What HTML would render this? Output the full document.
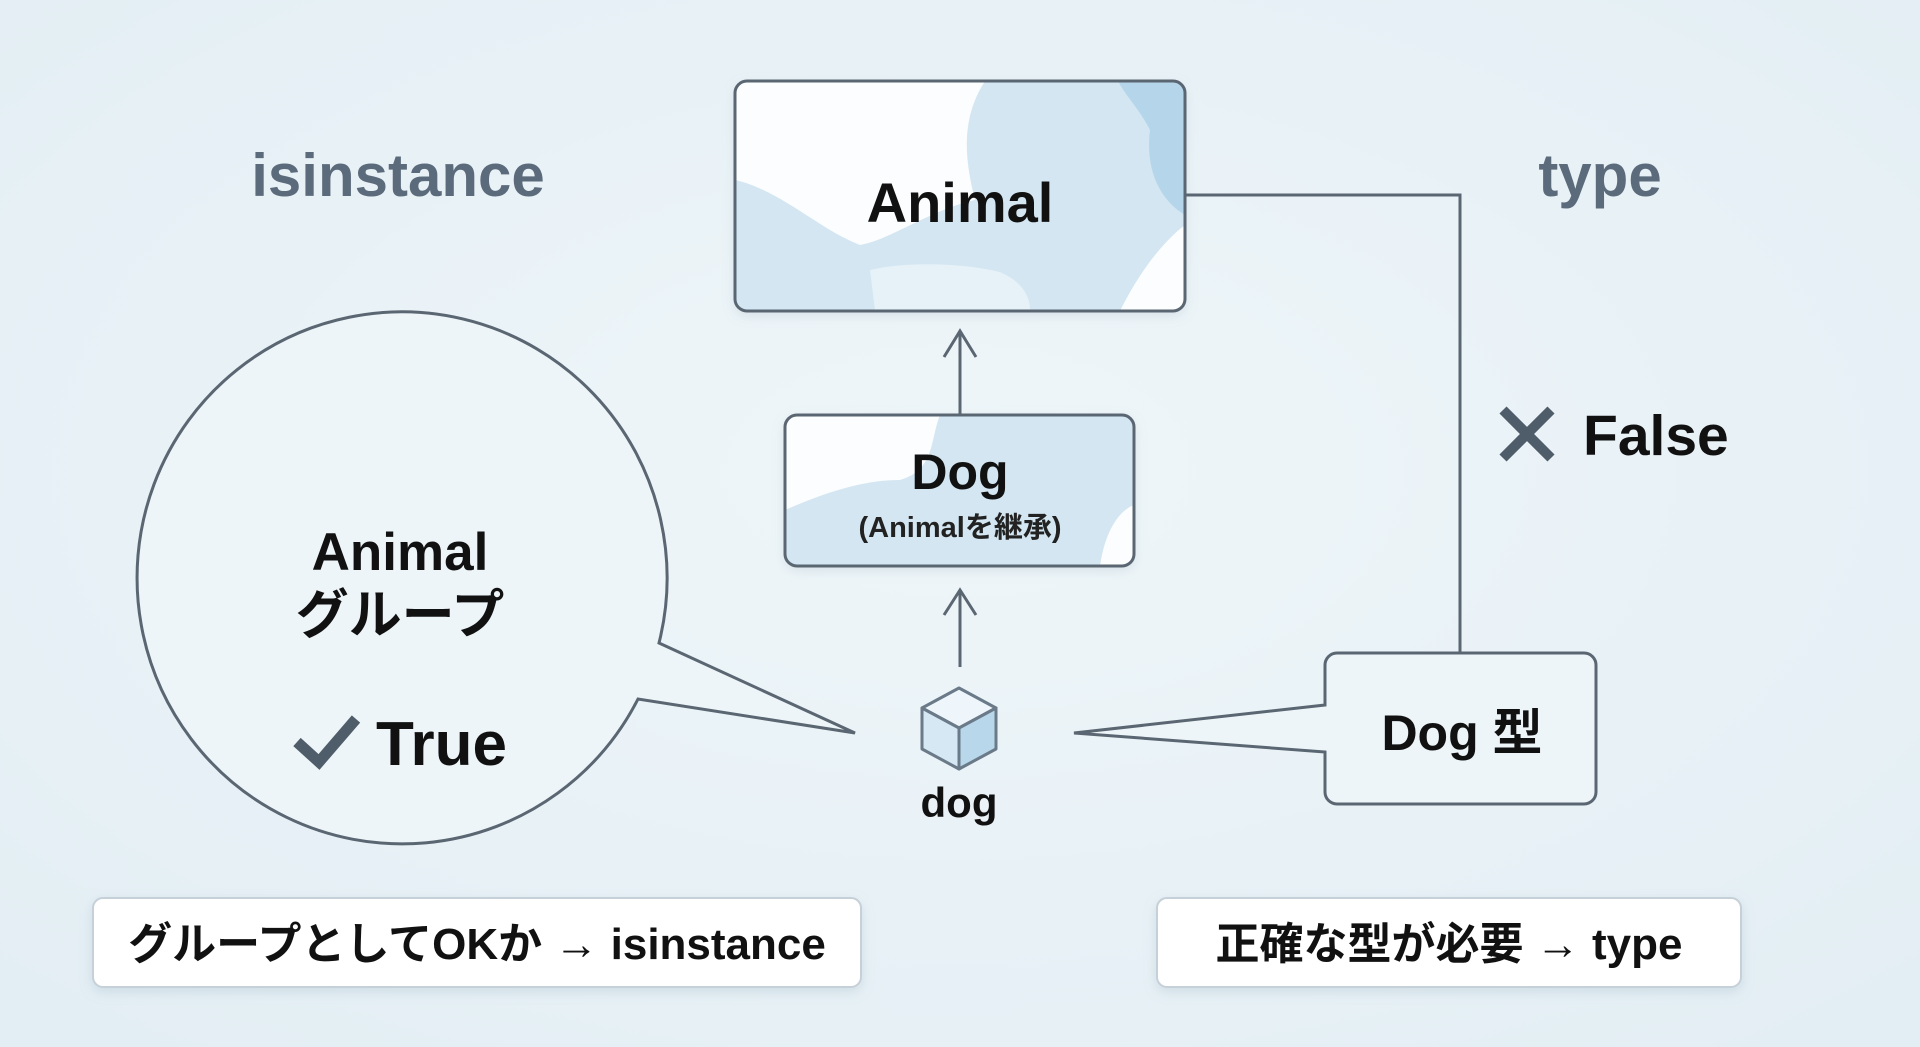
<!DOCTYPE html>
<html><head><meta charset="utf-8"><style>
html,body{margin:0;padding:0;width:1920px;height:1047px;overflow:hidden;background:#eaf3f7}
svg{display:block}
text{font-family:"Liberation Sans","Noto Sans CJK JP",sans-serif;font-weight:bold}
</style></head><body>
<svg width="1920" height="1047" viewBox="0 0 1920 1047" xmlns="http://www.w3.org/2000/svg">
<defs>
<radialGradient id="bg" cx="50%" cy="45%" r="70%"><stop offset="0" stop-color="#eff6f9"/><stop offset="1" stop-color="#e3eef4"/></radialGradient>
<clipPath id="c1"><rect x="735" y="81" width="450" height="230" rx="12"/></clipPath>
<clipPath id="c2"><rect x="785" y="415" width="349" height="151" rx="12"/></clipPath>
<filter id="sh" x="-10%" y="-10%" width="120%" height="130%"><feDropShadow dx="0" dy="4" stdDeviation="6" flood-color="#8aa0b0" flood-opacity="0.25"/></filter>
</defs>
<rect width="1920" height="1047" fill="url(#bg)"/>

<text x="398" y="196" font-size="60" fill="#5b6b7b" text-anchor="middle">isinstance</text>
<text x="1600" y="196" font-size="60" fill="#5b6b7b" text-anchor="middle">type</text>

<!-- Animal box -->
<g filter="url(#sh)"><rect x="735" y="81" width="450" height="230" rx="12" fill="#d3e6f2"/></g>
<g clip-path="url(#c1)">
<path d="M735 81 H985 C960 120 965 160 975 200 C930 210 890 240 860 245 C820 230 780 190 735 180 Z" fill="#fbfdfe"/>
<path d="M1118 81 H1185 V215 C1160 200 1145 170 1150 130 C1140 110 1125 95 1118 81Z" fill="#b5d6ea"/>
<path d="M1120 311 C1140 270 1165 240 1185 225 V311Z" fill="#fbfdfe"/>
<path d="M870 270 C900 262 960 262 1000 272 C1030 285 1030 305 1030 311 H875 Z" fill="#e6f1f8"/>
</g>
<rect x="735" y="81" width="450" height="230" rx="12" fill="none" stroke="#5a6672" stroke-width="3"/>
<text x="960" y="222" font-size="56" fill="#111" text-anchor="middle">Animal</text>

<!-- arrow Animal<-Dog -->
<path d="M960 414 V331 M944 357 L960 331 L976 357" fill="none" stroke="#5a6672" stroke-width="3"/>

<!-- Dog box -->
<g filter="url(#sh)"><rect x="785" y="415" width="349" height="151" rx="12" fill="#d3e6f2"/></g>
<g clip-path="url(#c2)">
<path d="M785 415 H940 C930 440 935 470 900 480 C860 480 820 495 785 510Z" fill="#fbfdfe"/>
<path d="M1100 566 C1105 530 1120 510 1134 505 V566Z" fill="#fbfdfe"/>
</g>
<rect x="785" y="415" width="349" height="151" rx="12" fill="none" stroke="#5a6672" stroke-width="3"/>
<text x="960" y="489" font-size="50" fill="#111" text-anchor="middle">Dog</text>
<text x="960" y="537" font-size="29" fill="#222" text-anchor="middle">(Animalを継承)</text>

<!-- arrow dog->Dog -->
<path d="M960 667 V590 M944 615 L960 590 L976 615" fill="none" stroke="#5a6672" stroke-width="3"/>

<!-- cube -->
<g stroke="#6a7a88" stroke-width="3" stroke-linejoin="round">
<path d="M959 688 L996 708 L959 728 L922 708Z" fill="#eef6fb"/>
<path d="M922 708 L959 728 L959 769 L922 749Z" fill="#d6e8f3"/>
<path d="M996 708 L959 728 L959 769 L996 749Z" fill="#b8d7ea"/>
</g>
<text x="959" y="817" font-size="42" fill="#111" text-anchor="middle">dog</text>

<!-- left speech bubble -->
<path d="M659 643 L855 733 L638 699 A265 266 0 1 1 659 643 Z" fill="#edf5f9" stroke="#5a6672" stroke-width="3" stroke-linejoin="miter"/>
<text x="400" y="570" font-size="53" fill="#111" text-anchor="middle">Animal</text>
<text x="400" y="633" font-size="53" fill="#111" text-anchor="middle">グループ</text>
<path d="M297 742 L319 762 L356 719" fill="none" stroke="#4f5d6a" stroke-width="11"/>
<text x="376" y="765" font-size="62" fill="#111">True</text>

<!-- type connector -->
<path d="M1185 195 H1460 V653" fill="none" stroke="#5a6672" stroke-width="3"/>
<path d="M1503 410 L1551 458 M1551 410 L1503 458" stroke="#4f5d6a" stroke-width="10"/>
<text x="1583" y="455" font-size="57" fill="#111">False</text>

<!-- Dog型 bubble -->
<path d="M1337 653 H1584 A12 12 0 0 1 1596 665 V792 A12 12 0 0 1 1584 804 H1337 A12 12 0 0 1 1325 792 V752 L1074 733 L1325 705 V665 A12 12 0 0 1 1337 653Z" fill="#edf5f9" stroke="#5a6672" stroke-width="3"/>
<text x="1462" y="750" font-size="50" fill="#111" text-anchor="middle">Dog 型</text>

<!-- bottom boxes -->
<rect x="93" y="898" width="768" height="89" rx="10" fill="#fff" stroke="#c6d0d8" stroke-width="2" filter="url(#sh)"/>
<text x="477" y="959" font-size="44" fill="#111" text-anchor="middle">グループとしてOKか → isinstance</text>
<rect x="1157" y="898" width="584" height="89" rx="10" fill="#fff" stroke="#c6d0d8" stroke-width="2" filter="url(#sh)"/>
<text x="1449" y="959" font-size="44" fill="#111" text-anchor="middle">正確な型が必要 → type</text>
</svg>
</body></html>
